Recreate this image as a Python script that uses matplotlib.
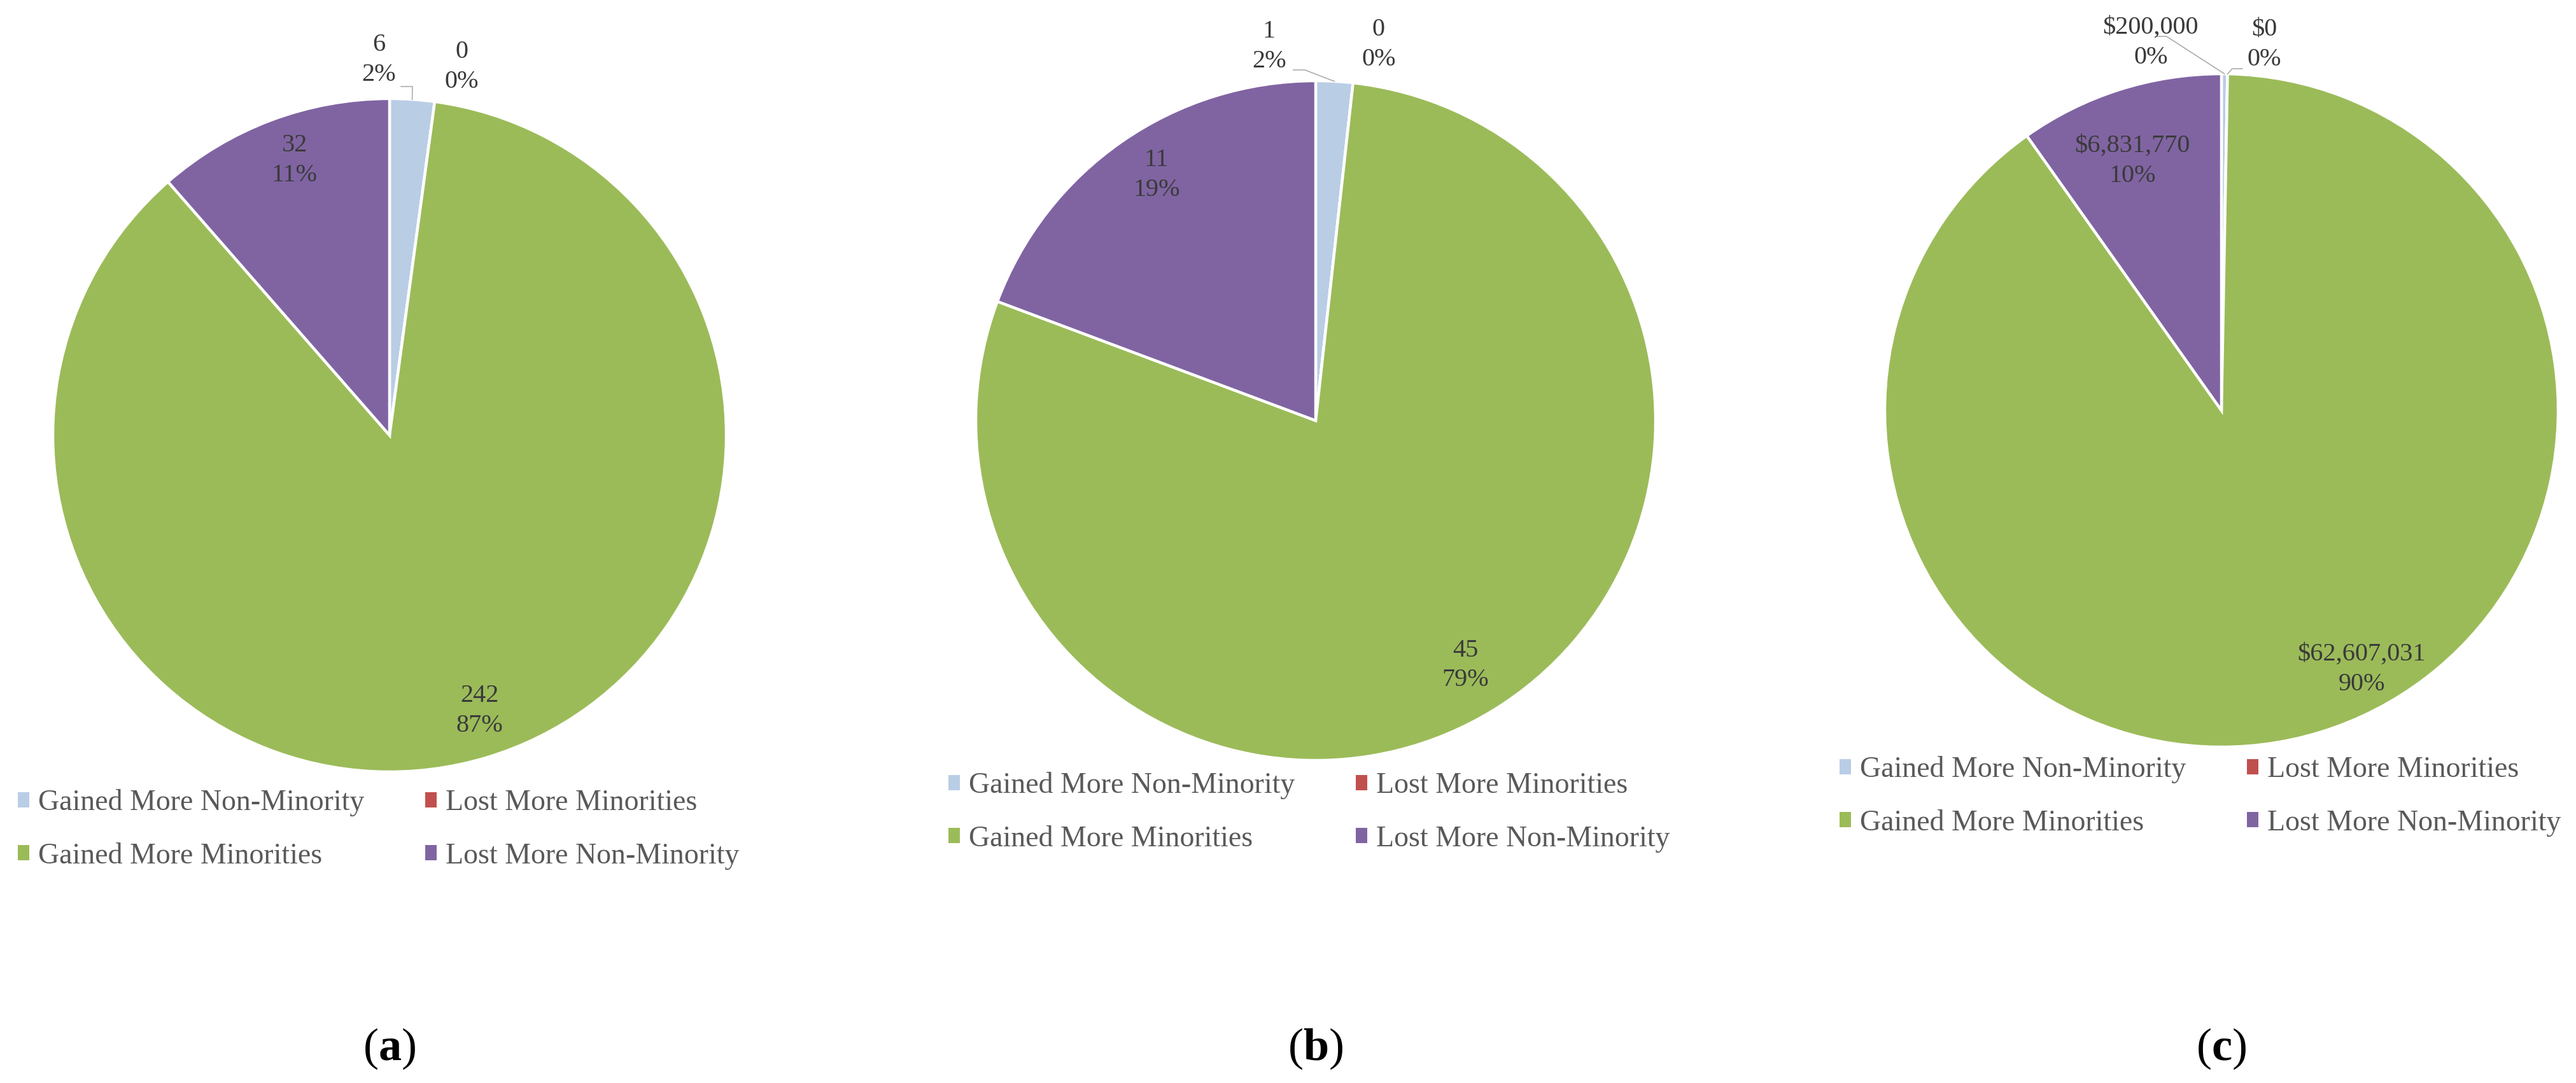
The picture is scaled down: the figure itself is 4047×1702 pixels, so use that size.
import matplotlib
matplotlib.use("Agg")
import matplotlib.pyplot as plt
from matplotlib.patches import Patch
import numpy as np

# ------------------------------
# Data
# ------------------------------
categories = ["Gained More Non-Minority", "Lost More Minorities",
              "Gained More Minorities", "Lost More Non-Minority"]
colors = ["#B9CDE5", "#C0504D", "#9BBB59", "#8064A2"]

counts_a = [6, 0, 242, 32]
pct_a = ["2%", "0%", "87%", "11%"]

counts_b = [1, 0, 45, 11]
pct_b = ["2%", "0%", "79%", "19%"]

dollars_c = [200000, 0, 62607031, 6831770]
pct_c = ["0%", "0%", "90%", "10%"]

panel_letters = ["a", "b", "c"]
value_prefix = ["", "", "$"]

# ------------------------------
# Layout (pixels of the 4047x1702 output)
# ------------------------------
W, H = 4047, 1702
pie_centers = [(612, 684), (2067, 661), (3490, 645)]
pie_radii = [529, 534, 529]

# label block centres, in units of pie radius (y up)
label_pos = [
    [(-0.032, 1.115), (0.214, 1.095), (0.267, -0.819), (-0.282, 0.817)],
    [(-0.137, 1.101), (0.185, 1.107), (0.44, -0.72), (-0.468, 0.723)],
    [(-0.21, 1.093), (0.127, 1.087), (0.416, -0.769), (-0.265, 0.741)],
]
# leader lines: (panel, wedge, start, elbow) in radius units
leaders = [
    (0, 0, (0.034, 1.036), (0.068, 1.036)),
    (1, 0, (-0.066, 1.032), (-0.032, 1.032)),
    (2, 0, (-0.191, 1.111), (-0.163, 1.111)),
    (2, 1, (0.062, 1.015), (0.032, 1.015)),
]
legend_anchor = [(28, 1240), (1490, 1213), (2890, 1188)]
caption_y = 1648

plt.rcParams["font.family"] = ["Liberation Serif", "DejaVu Serif"]
plt.rcParams["mathtext.fontset"] = "custom"
plt.rcParams["mathtext.rm"] = "Liberation Serif"
plt.rcParams["mathtext.bf"] = "Liberation Serif:bold"

fig = plt.figure(figsize=(W / 100, H / 100), dpi=100)

panels = [counts_a, counts_b, dollars_c]
pcts = [pct_a, pct_b, pct_c]
axes = []
wedge_sets = []

for i, values in enumerate(panels):
    cx, cy = pie_centers[i]
    r = pie_radii[i]
    ax = fig.add_axes([(cx - r) / W, (H - cy - r) / H, 2 * r / W, 2 * r / H])
    wedges, _ = ax.pie(values, colors=colors, startangle=90, counterclock=False,
                       radius=1, wedgeprops=dict(edgecolor="white", linewidth=3.2))
    ax.set_xlim(-1, 1)
    ax.set_ylim(-1, 1)
    ax.axis("off")
    axes.append(ax)
    wedge_sets.append(wedges)

    # data labels: value + percent
    for j, v in enumerate(values):
        lx, ly = label_pos[i][j]
        ax.text(lx, ly, f"{value_prefix[i]}{v:,}\n{pcts[i][j]}", ha="center", va="center",
                fontsize=29, color="#3a3a3a", linespacing=1.35, clip_on=False)

    # legend
    handles = [Patch(facecolor=c, edgecolor="none") for c in colors]
    order = [0, 2, 1, 3]
    lx, ly = legend_anchor[i]
    fig.legend([handles[k] for k in order], [categories[k] for k in order],
               loc="upper left", bbox_to_anchor=(lx / W, 1 - ly / H),
               bbox_transform=fig.transFigure, ncol=2, frameon=False,
               fontsize=33, labelcolor="#595959", handlelength=0.39, handleheight=0.43,
               handletextpad=0.3, columnspacing=2.1, labelspacing=0.9,
               borderpad=0, borderaxespad=0)

    # panel caption
    fig.text(cx / W, 1 - caption_y / H, r"($\mathbf{%s}$)" % panel_letters[i],
             ha="center", va="center", fontsize=52, color="black")

# leader lines from outside labels to thin wedges
for i, j, start, elbow in leaders:
    w = wedge_sets[i][j]
    mid = np.deg2rad((w.theta1 + w.theta2) / 2)
    px, py = np.cos(mid), np.sin(mid)
    axes[i].plot([start[0], elbow[0], px], [start[1], elbow[1], py],
                 color="#A6A6A6", lw=1.1, clip_on=False)

fig.savefig("out.png", dpi=100, facecolor="white")
